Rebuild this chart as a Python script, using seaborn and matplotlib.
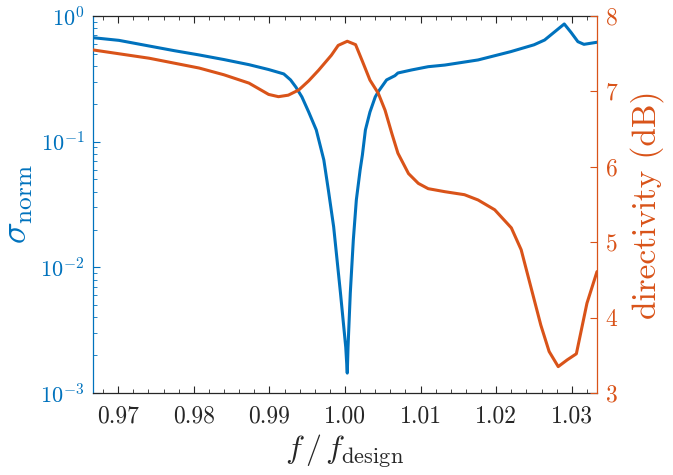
import numpy as np
import pandas as pd
import matplotlib
matplotlib.use("Agg")
import matplotlib.pyplot as plt
import matplotlib.ticker as mticker
import seaborn as sns

# normalized scattering (left, log axis)
freq_sigma = [0.96667, 0.9701, 0.9741, 0.9774, 0.9807, 0.9840, 0.9873, 0.9899,
              0.9919, 0.9928, 0.9935, 0.9943, 0.9952, 0.9962, 0.9972, 0.9978,
              0.9985, 0.9994, 1.0001, 1.0003, 1.0004, 1.0007, 1.0011, 1.0015,
              1.0020, 1.0023, 1.0027, 1.0033, 1.0040, 1.0044, 1.0055, 1.0066,
              1.0070, 1.0088, 1.0110, 1.0132, 1.0176, 1.0219, 1.0250, 1.0264,
              1.0290, 1.0299, 1.0308, 1.0316, 1.03333]
sigma_norm = [0.672, 0.640, 0.577, 0.530, 0.490, 0.450, 0.410, 0.375,
              0.346, 0.310, 0.272, 0.227, 0.172, 0.124, 0.0715, 0.0412,
              0.0210, 0.00625, 0.00231, 0.00144, 0.00232, 0.00625, 0.0165, 0.0344,
              0.0595, 0.0783, 0.124, 0.172, 0.227, 0.250, 0.310, 0.335,
              0.352, 0.372, 0.395, 0.407, 0.447, 0.520, 0.590, 0.644,
              0.864, 0.740, 0.625, 0.595, 0.618]

# directivity (right axis, dB)
freq_dir = [0.96667, 0.9741, 0.9807, 0.9840, 0.9873, 0.9899, 0.9912, 0.9925,
            0.9939, 0.9952, 0.9965, 0.9982, 0.9991, 1.0003, 1.0014, 1.0023,
            1.0033, 1.0044, 1.0053, 1.0062, 1.0070, 1.0084, 1.0097, 1.0110,
            1.0132, 1.0158, 1.0176, 1.0198, 1.0220, 1.0233, 1.0246, 1.0259,
            1.0270, 1.0282, 1.0294, 1.0306, 1.0320, 1.03333]
directivity = [7.55, 7.44, 7.31, 7.22, 7.11, 6.96, 6.93, 6.95,
               7.02, 7.14, 7.28, 7.48, 7.61, 7.665, 7.62, 7.40,
               7.15, 6.975, 6.75, 6.44, 6.18, 5.91, 5.78, 5.71,
               5.67, 5.63, 5.56, 5.43, 5.19, 4.90, 4.40, 3.90,
               3.55, 3.35, 3.44, 3.52, 4.19, 4.61]

x_ticks = [0.97, 0.98, 0.99, 1.00, 1.01, 1.02, 1.03]
x_ticklabels = ["0.97", "0.98", "0.99", "1.00", "1.01", "1.02", "1.03"]
dir_ticks = [3, 4, 5, 6, 7, 8]

BLUE = "#0072BD"
ORANGE = "#D95319"
DARK = "#262626"

sns.set_theme(style="white")
plt.rcParams["font.family"] = ["cmr10"]
plt.rcParams["mathtext.fontset"] = "cm"
plt.rcParams["axes.unicode_minus"] = False
plt.rcParams["axes.formatter.use_mathtext"] = True

df_sigma = pd.DataFrame({"f": freq_sigma, "sigma": sigma_norm})
df_dir = pd.DataFrame({"f": freq_dir, "dir": directivity})

fig = plt.figure(figsize=(6.73, 4.75), dpi=100)
ax = fig.add_axes([93 / 673, 1 - 393 / 475, 504 / 673, 377 / 475])
ax2 = ax.twinx()

sns.lineplot(data=df_sigma, x="f", y="sigma", ax=ax, color=BLUE, lw=2.2,
             sort=False)
sns.lineplot(data=df_dir, x="f", y="dir", ax=ax2, color=ORANGE, lw=2.2,
             sort=False)

ax.set_yscale("log")
ax.set_ylim(1e-3, 1e0)
ax.set_xlim(0.96667, 1.03333)
ax2.set_ylim(3, 8)

ax.set_xticks(x_ticks)
ax.set_xticklabels(x_ticklabels)
ax.xaxis.set_minor_locator(mticker.MultipleLocator(0.002))
ax.yaxis.set_major_locator(mticker.LogLocator(base=10, numticks=10))
ax.yaxis.set_minor_locator(mticker.LogLocator(base=10, subs=np.arange(2, 10), numticks=10))
ax2.set_yticks(dir_ticks)
ax2.yaxis.set_minor_locator(mticker.NullLocator())

ax.tick_params(axis="x", which="both", direction="in", top=True, bottom=True,
               colors=DARK, labelsize=17, pad=9)
ax.tick_params(axis="x", which="major", length=5, width=0.8)
ax.tick_params(axis="x", which="minor", length=3, width=0.6)
ax.tick_params(axis="y", which="both", direction="in", left=True, right=False,
               colors=BLUE, labelsize=16, pad=6)
ax.tick_params(axis="y", which="major", length=5, width=0.8)
ax.tick_params(axis="y", which="minor", length=3, width=0.6)
ax2.tick_params(axis="y", which="major", direction="in", right=True, left=False,
                colors=ORANGE, labelsize=17, length=5, width=0.8, pad=6)

for name, sp in ax.spines.items():
    sp.set_linewidth(0.9)
ax.spines["left"].set_color(BLUE)
ax.spines["bottom"].set_color(DARK)
ax.spines["top"].set_color(DARK)
ax.spines["right"].set_visible(False)
ax2.spines["left"].set_visible(False)
ax2.spines["top"].set_visible(False)
ax2.spines["bottom"].set_visible(False)
ax2.spines["right"].set_color(ORANGE)
ax2.spines["right"].set_linewidth(0.9)

ax.set_xlabel(r"$f\,/\,f_{\mathrm{design}}$", fontsize=23, color=DARK, labelpad=4)
ax.set_ylabel(r"$\sigma_{\mathrm{norm}}$", fontsize=26, color=BLUE, labelpad=4)
ax2.set_ylabel("directivity (dB)", fontsize=24, color=ORANGE, labelpad=8)

ax.grid(False)
ax2.grid(False)

fig.savefig("out.png", dpi=100)
